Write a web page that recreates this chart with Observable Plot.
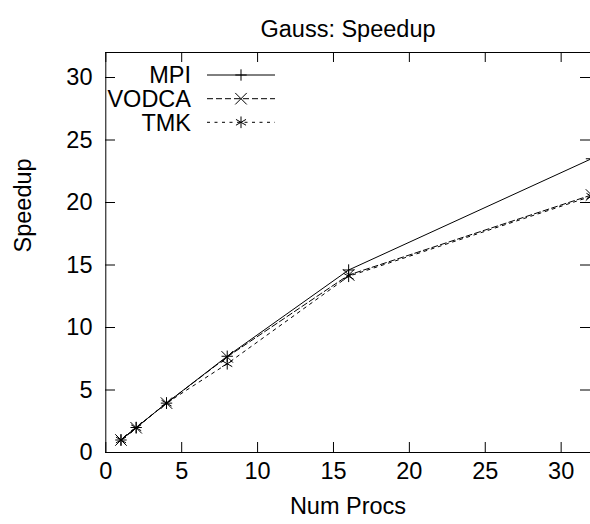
<!DOCTYPE html>
<html>
<head>
<meta charset="utf-8">
<script src="https://cdn.jsdelivr.net/npm/d3@7"></script>
<script src="https://cdn.jsdelivr.net/npm/@observablehq/plot@0.6"></script>
<style>
  html, body { margin: 0; padding: 0; background: #fff; }
  svg { display: block; }
</style>
</head>
<body>
<div id="chart"></div>
<script>
const procs = [1, 2, 4, 8, 16, 32];
const mpi   = [1.0, 2.0, 3.95, 7.7, 14.6, 23.5];
const vodca = [1.0, 1.98, 3.95, 7.65, 14.2, 20.6];
const tmk   = [1.0, 1.98, 3.95, 7.1, 14.1, 20.5];
const seriesNames = ["MPI", "VODCA", "TMK"];
const xTicks = [0, 5, 10, 15, 20, 25, 30];
const yTicks = [0, 5, 10, 15, 20, 25, 30];
const title = "Gauss: Speedup";
const xLabel = "Num Procs";
const yLabel = "Speedup";

const seriesValues = [mpi, vodca, tmk];
const styles = {
  MPI:   {dash: null,    symbol: "plus",     r: 3.75},
  VODCA: {dash: "6,3",   symbol: "times",    r: 5.3},
  TMK:   {dash: "3,4.5", symbol: "asterisk", r: 5.5}
};
const data = seriesNames.flatMap((name, s) =>
  procs.map((p, i) => ({series: name, procs: p, speedup: seriesValues[s][i]})));

const font = "'Liberation Sans', Arial, Helvetica, sans-serif";
const fs = 23.5;

const marks = [
  Plot.ruleX([0], {stroke: "black", strokeWidth: 1}),
  Plot.ruleY([0, 32], {stroke: "black", strokeWidth: 1}),
  Plot.tickY(yTicks, {y: d => d, insetRight: 475, stroke: "black"}),
  Plot.tickY(yTicks, {y: d => d, insetLeft: 475, stroke: "black"}),
  Plot.tickX(xTicks, {x: d => d, insetTop: 390, stroke: "black"}),
  Plot.tickX(xTicks, {x: d => d, insetBottom: 390, stroke: "black"}),
  Plot.axisX(xTicks, {tickSize: 0, tickPadding: 10, fontSize: fs, label: null}),
  Plot.axisY(yTicks, {tickSize: 0, tickPadding: 13, fontSize: fs, label: null}),
];
for (const name of seriesNames) {
  const d = data.filter(r => r.series === name);
  marks.push(Plot.line(d, {x: "procs", y: "speedup", stroke: "black", strokeWidth: 1,
    strokeDasharray: styles[name].dash}));
  marks.push(Plot.dot(d, {x: "procs", y: "speedup", symbol: () => styles[name].symbol,
    stroke: "black", fill: "none", strokeWidth: 1, r: styles[name].r}));
}
marks.push(Plot.text([title], {text: d => d, frameAnchor: "top", dy: -32, fontSize: fs}));
marks.push(Plot.text([xLabel], {text: d => d, frameAnchor: "bottom", dy: 61, fontSize: fs}));
marks.push(Plot.text([yLabel], {text: d => d, frameAnchor: "left", dx: -82, rotate: -90, fontSize: fs}));

const chart = Plot.plot({
  width: 590,
  height: 524,
  marginLeft: 105,
  marginRight: 0,
  marginTop: 52,
  marginBottom: 72,
  style: {fontFamily: font, fontSize: fs + "px", color: "black", background: "white"},
  x: {domain: [0, 32], range: [105.3, 591]},
  y: {domain: [0, 32]},
  symbol: {type: "identity"},
  marks
});
document.getElementById("chart").append(chart);

// Legend (key) inside the plot, top-left
const svg = d3.select(chart);
const g = svg.append("g").attr("font-family", font).attr("font-size", fs);
const rowY = [75, 98.7, 122.3];
const symMap = {plus: d3.symbolPlus, times: d3.symbolTimes, asterisk: d3.symbolAsterisk};
seriesNames.forEach((name, i) => {
  const y = rowY[i];
  const st = styles[name];
  g.append("text").attr("x", 191).attr("y", y).attr("text-anchor", "end")
    .attr("dy", "0.35em").attr("fill", "black").text(name);
  g.append("line").attr("x1", 207).attr("x2", 275).attr("y1", y).attr("y2", y)
    .attr("stroke", "black").attr("stroke-width", 1)
    .attr("stroke-dasharray", st.dash);
  g.append("path").attr("transform", `translate(241,${y})`)
    .attr("d", d3.symbol(symMap[st.symbol], st.r * st.r * Math.PI)())
    .attr("stroke", "black").attr("fill", "none");
});
</script>
</body>
</html>
